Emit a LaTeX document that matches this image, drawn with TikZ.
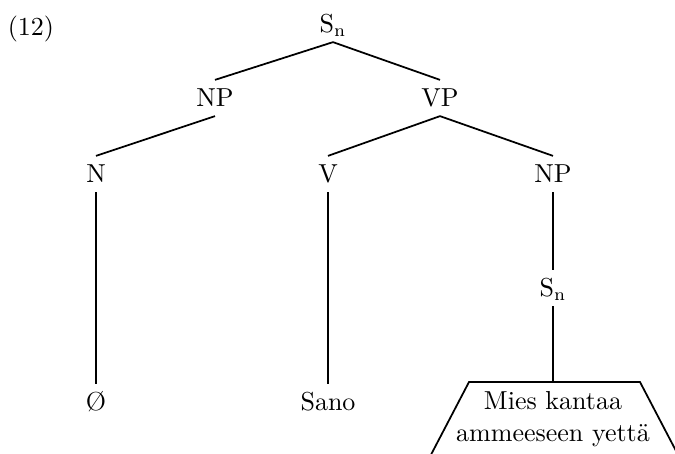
\documentclass[tikz,border=0pt]{standalone}

\tikzset{
  cat/.style={font=\fontsize{10.4}{12.8}\selectfont, text height=7.1pt, text depth=0pt, inner sep=3.5pt},
  leaf/.style={font=\fontsize{10.4}{12.8}\selectfont, align=center, inner sep=0pt},
  branch/.style={line width=0.7pt},
}

\begin{document}
\begin{tikzpicture}[x=0.4pt,y=-0.4pt]
                \useasboundingbox (0,0) rectangle (675,454);
                \clip (0,0) rectangle (675,454);
                \node[cat] (ex) at (31,27) {(12)};
                \node[cat] (s) at (333,24) {S$_{\mathrm{n}}$};
                \node[cat] (np) at (215,98) {NP};
                \node[cat] (vp) at (440,98) {VP};
                \node[cat] (n) at (96,174) {N};
                \node[cat] (v) at (328,174) {V};
                \node[cat] (np2) at (553,174) {NP};
                \node[cat] (sn) at (553,288) {S$_{\mathrm{n}}$};
                \node[cat] (null) at (96,402) {\O};
                \node[cat] (sano) at (328,402) {Sano};
                \coordinate (top) at (553,382);
                \coordinate (tl) at (469,382);
                \coordinate (tr) at (640,382);
                \coordinate (bl) at (423,470);
                \coordinate (br) at (686,470);
                \node[leaf] (mies) at (553,419) {Mies kantaa\\ammeeseen yettä};
                \draw[branch] (s.south) -- (np.north);
                \draw[branch] (s.south) -- (vp.north);
                \draw[branch] (np.south) -- (n.north);
                \draw[branch] (vp.south) -- (v.north);
                \draw[branch] (vp.south) -- (np2.north);
                \draw[branch] (n.south) -- (null.north);
                \draw[branch] (v.south) -- (sano.north);
                \draw[branch] (np2.south) -- (sn.north);
                \draw[branch] (sn.south) -- (top);
                \draw[branch] (bl) -- (tl) -- (tr) -- (br);
            \end{tikzpicture}
\end{document}
